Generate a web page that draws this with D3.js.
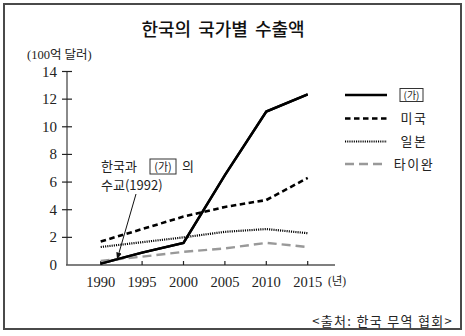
<!DOCTYPE html>
<html>
<head>
<meta charset="utf-8">
<script src="https://cdn.jsdelivr.net/npm/d3@7/dist/d3.min.js"></script>
<style>
  html, body { margin: 0; padding: 0; background: #fff; }
  svg { display: block; }
</style>
</head>
<body>
<svg id="chart" width="465" height="336"></svg>
<script>
// Korea's exports by partner country (unit: 10 billion USD)
const years = [1990, 1995, 2000, 2005, 2010, 2015];
const seriesNames = ["(가)", "미국", "일본", "타이완"];
const gaValues = [0.1, 0.9, 1.6, 6.5, 11.1, 12.35];
const usaValues = [1.7, 2.6, 3.5, 4.2, 4.7, 6.3];
const japanValues = [1.3, 1.65, 2.0, 2.4, 2.6, 2.3];
const taiwanValues = [0.3, 0.6, 0.95, 1.2, 1.6, 1.3];
const yTicks = [0, 2, 4, 6, 8, 10, 12, 14];

const KR = "'Noto Sans CJK KR', 'Noto Sans', sans-serif";
const SERIF = "'Liberation Serif', 'DejaVu Serif', 'Noto Sans CJK KR', serif";

const seriesValues = [gaValues, usaValues, japanValues, taiwanValues];
const styles = [
  { stroke: "#000", width: 2.4, dash: null },
  { stroke: "#000", width: 2.6, dash: "5.5,3.5" },
  { stroke: "#000", width: 2.2, dash: "1.1,1.1" },
  { stroke: "#999", width: 2.4, dash: "9,5" }
];

const svg = d3.select("#chart");

// outer frame
svg.append("rect")
  .attr("x", 4).attr("y", 4).attr("width", 457).attr("height", 325)
  .attr("fill", "none").attr("stroke", "#4a4a4a").attr("stroke-width", 2);

// title
svg.append("text").style("font-family", KR)
  .attr("x", 223).attr("y", 36).attr("text-anchor", "middle")
  .attr("font-size", 18).attr("font-weight", 500).attr("word-spacing", 3)
  .attr("fill", "#111")
  .text("한국의 국가별 수출액");

// unit label
svg.append("text").style("font-family", SERIF)
  .attr("x", 27).attr("y", 59).attr("font-size", 12.5).attr("fill", "#222")
  .text("(100억 달러)");

const x = d3.scaleLinear().domain([1990, 2015]).range([100.7, 307.7]);
const y = d3.scaleLinear().domain([0, 14]).range([265, 71.5]);

// y axis
svg.append("line").attr("x1", 67).attr("x2", 67)
  .attr("y1", y(0)).attr("y2", y(14))
  .attr("stroke", "#8a8a8a").attr("stroke-width", 2);
const yAxis = svg.append("g");
yAxis.selectAll("line").data(yTicks.filter(d => d > 0)).join("line")
  .attr("x1", 62).attr("x2", 72)
  .attr("y1", d => y(d)).attr("y2", d => y(d))
  .attr("stroke", "#222").attr("stroke-width", 1.2);
yAxis.selectAll("text").data(yTicks).join("text").style("font-family", SERIF)
  .attr("x", 57).attr("y", d => y(d) + 5)
  .attr("text-anchor", "end").attr("font-size", 15).attr("fill", "#222")
  .text(d => d);

// x axis
svg.append("line").attr("x1", 66).attr("x2", 335)
  .attr("y1", y(0)).attr("y2", y(0))
  .attr("stroke", "#555").attr("stroke-width", 1.4);
const xAxis = svg.append("g");
xAxis.selectAll("line").data(years).join("line")
  .attr("x1", d => x(d)).attr("x2", d => x(d))
  .attr("y1", y(0)).attr("y2", y(0) - 4)
  .attr("stroke", "#222").attr("stroke-width", 1.2);
xAxis.selectAll("text").data(years).join("text").style("font-family", SERIF)
  .attr("x", d => x(d)).attr("y", 287)
  .attr("text-anchor", "middle").attr("font-size", 14.5).attr("fill", "#222")
  .text(d => d);
svg.append("text").style("font-family", SERIF)
  .attr("x", 337).attr("y", 285).attr("text-anchor", "middle")
  .attr("font-size", 11.5).attr("fill", "#222")
  .text("(년)");

// series lines
const line = d3.line().x((d, i) => x(years[i])).y(d => y(d));
seriesValues.forEach((vals, i) => {
  const s = styles[i];
  svg.append("path").datum(vals)
    .attr("d", line)
    .attr("fill", "none")
    .attr("stroke", s.stroke)
    .attr("stroke-width", s.width)
    .attr("stroke-dasharray", s.dash)
    .attr("stroke-linejoin", "miter");
});
// redraw the (가) line on top
svg.append("path").datum(gaValues).attr("d", line)
  .attr("fill", "none").attr("stroke", "#000").attr("stroke-width", 2.4);

// legend
const legendRows = [95, 118.5, 141.5, 164];
const legend = svg.append("g");
seriesNames.forEach((name, i) => {
  const s = styles[i];
  const ly = legendRows[i];
  legend.append("line")
    .attr("x1", 345).attr("x2", 387).attr("y1", ly).attr("y2", ly)
    .attr("stroke", s.stroke).attr("stroke-width", s.width)
    .attr("stroke-dasharray", s.dash);
  if (i === 0) {
    legend.append("rect")
      .attr("x", 400).attr("y", ly - 6.5).attr("width", 23).attr("height", 13)
      .attr("fill", "#fff").attr("stroke", "#333").attr("stroke-width", 1);
    legend.append("text").style("font-family", KR)
      .attr("x", 411.5).attr("y", ly + 3.5).attr("text-anchor", "middle")
      .attr("font-size", 10).attr("fill", "#222").text(name);
  } else {
    legend.append("text").style("font-family", KR)
      .attr("x", 414).attr("y", ly + 4.5).attr("text-anchor", "middle")
      .attr("font-size", 13).attr("letter-spacing", 1.5).attr("fill", "#222")
      .text(name);
  }
});

// annotation: diplomatic ties in 1992
const note = svg.append("g");
note.append("text").style("font-family", KR)
  .attr("x", 101).attr("y", 171).attr("font-size", 13).attr("fill", "#222")
  .text("한국과");
note.append("rect")
  .attr("x", 150).attr("y", 159).attr("width", 26).attr("height", 15)
  .attr("fill", "#fff").attr("stroke", "#333").attr("stroke-width", 1);
note.append("text").style("font-family", KR)
  .attr("x", 163).attr("y", 170.5).attr("text-anchor", "middle")
  .attr("font-size", 11).attr("fill", "#222").text("(가)");
note.append("text").style("font-family", KR)
  .attr("x", 182).attr("y", 171).attr("font-size", 13).attr("fill", "#222")
  .text("의");
note.append("text").style("font-family", KR)
  .attr("x", 101).attr("y", 190).attr("font-size", 13).attr("fill", "#222")
  .text("수교(1992)");

svg.append("defs").append("marker")
  .attr("id", "arrowhead").attr("viewBox", "0 0 10 10")
  .attr("refX", 9).attr("refY", 5)
  .attr("markerWidth", 7).attr("markerHeight", 7)
  .attr("markerUnits", "userSpaceOnUse")
  .attr("orient", "auto")
  .append("path").attr("d", "M0,1 L10,5 L0,9 Z").attr("fill", "#111");
const tipX = x(1992);
const tipY = y(0.3) - 2;
note.append("line")
  .attr("x1", 136).attr("y1", 194).attr("x2", tipX).attr("y2", tipY)
  .attr("stroke", "#111").attr("stroke-width", 1)
  .attr("marker-end", "url(#arrowhead)");

// source
svg.append("text").style("font-family", KR)
  .attr("x", 453).attr("y", 326).attr("text-anchor", "end")
  .attr("font-size", 13).attr("letter-spacing", 1.3).attr("fill", "#222")
  .text("<출처: 한국 무역 협회>");
</script>
</body>
</html>
